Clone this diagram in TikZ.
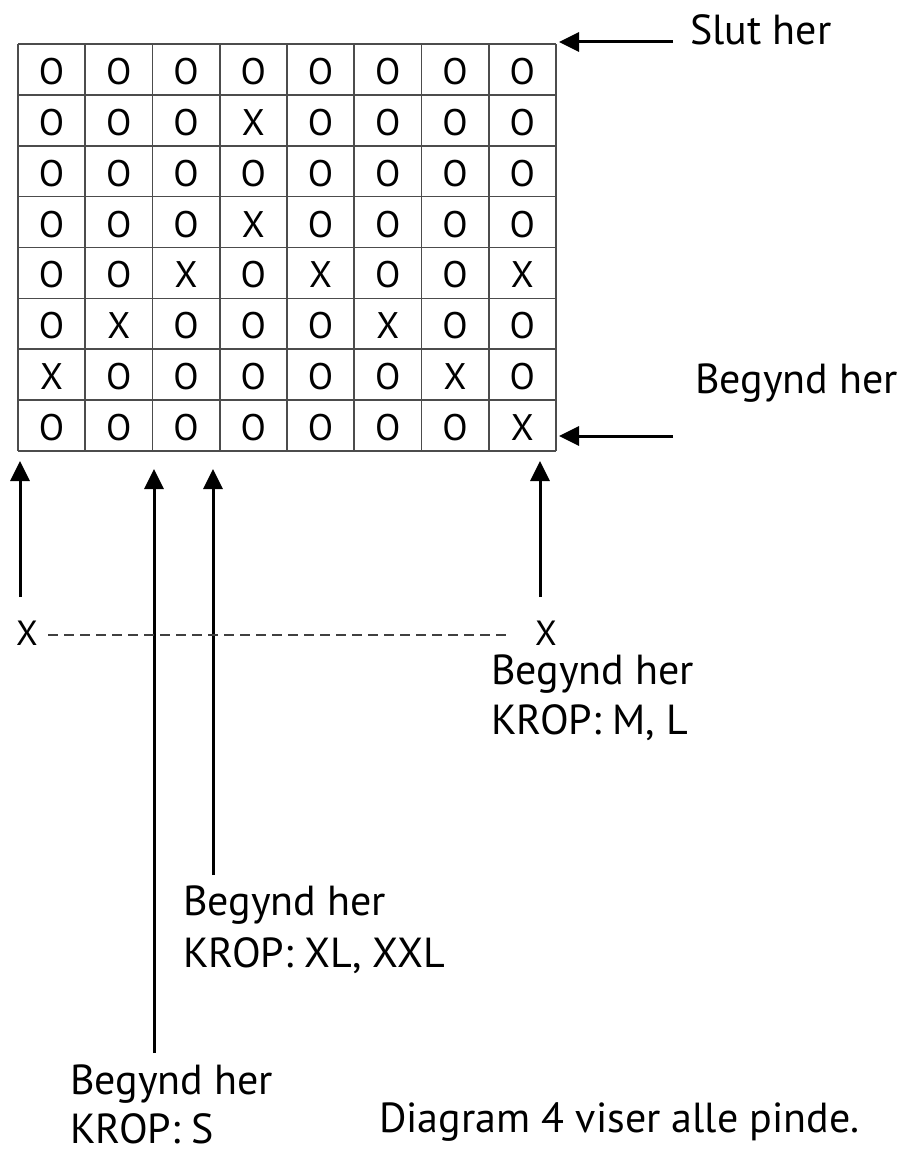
\documentclass[tikz,border=0pt]{standalone}
\usepackage{fontspec}
\setmainfont{PT Sans}
\usetikzlibrary{arrows.meta}
\begin{document}
\begin{tikzpicture}[x=1pt,y=-1pt,
  gridline/.style={draw=black!70, line width=1.6pt},
  cell/.style={font=\fontsize{37}{40}\selectfont, inner sep=0pt},
  lbl/.style={font=\fontsize{42}{51}\selectfont, inner sep=0pt, anchor=base west},
  xlbl/.style={font=\fontsize{35}{40}\selectfont, inner sep=0pt, anchor=base},
  arr/.style={line width=3pt, -{Triangle[length=20pt,width=19pt]}},
  dash line/.style={draw=black!75, line width=2pt, dash pattern=on 10pt off 6pt},
  ]
\useasboundingbox (0,0) rectangle (904,1153);
% grid
\foreach \i in {0,...,8} {
  \draw[gridline] ({18+67.25*\i},44) -- ({18+67.25*\i},451);
  \draw[gridline] (18,{44+50.875*\i}) -- (556,{44+50.875*\i});
}
\foreach \row [count=\r] in {{O,O,O,O,O,O,O,O},{O,O,O,X,O,O,O,O},{O,O,O,O,O,O,O,O},{O,O,O,X,O,O,O,O},{O,O,X,O,X,O,O,X},{O,X,O,O,O,X,O,O},{X,O,O,O,O,O,X,O},{O,O,O,O,O,O,O,X}} {
  \foreach \c [count=\k] in \row {
    \node[cell] (c\r-\k) at ({18+67.25*(\k-0.5)},{46+50.875*(\r-0.5)}) {\c};
  }
}
% right side labels and arrows
\node[lbl] (slut) at (690,45) {Slut her};
\coordinate (slutTail) at (673,42);
\coordinate (slutTip) at (559,42);
\draw[arr] (slutTail) -- (slutTip);
\node[lbl] (begR) at (695,393) {Begynd her};
\coordinate (begRTail) at (673,436);
\coordinate (begRTip) at (559,436);
\draw[arr] (begRTail) -- (begRTip);
% up arrows
\coordinate (a1t) at (20,597);  \coordinate (a1h) at (20,461);
\coordinate (a2t) at (154,1053); \coordinate (a2h) at (154,469);
\coordinate (a3t) at (213,875); \coordinate (a3h) at (213,469);
\coordinate (a4t) at (540,597); \coordinate (a4h) at (540,461);
\draw[arr] (a1t) -- (a1h);
\draw[arr] (a2t) -- (a2h);
\draw[arr] (a3t) -- (a3h);
\draw[arr] (a4t) -- (a4h);
% dashed line with X marks
\node[xlbl] (xl) at (27,645) {X};
\node[xlbl] (xr) at (546,645) {X};
\draw[dash line] (48,635) -- (512,635);
% labels
\node[lbl] (ml1) at (491,684) {Begynd her};
\node[lbl] (ml2) at (491,734) {KROP: M, L};
\node[lbl] (xl1) at (183,915) {Begynd her};
\node[lbl] (xl2) at (183,967) {KROP: XL, XXL};
\node[lbl] (s1) at (70,1094) {Begynd her};
\node[lbl] (s2) at (70,1143) {KROP: S};
\node[lbl] (diag) at (379,1132) {Diagram 4 viser alle pinde.};
\end{tikzpicture}
\end{document}
